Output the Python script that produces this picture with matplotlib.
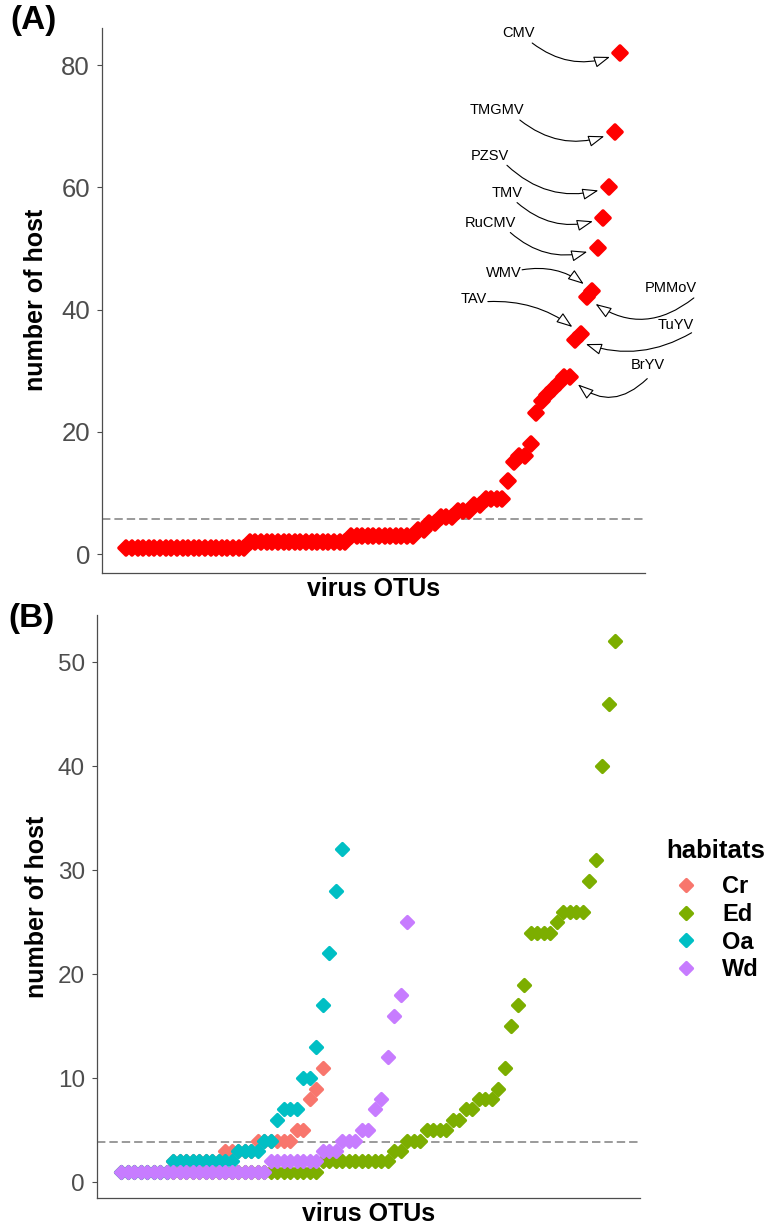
import matplotlib.pyplot as plt
from matplotlib.markers import MarkerStyle

plt.rcParams["font.family"] = ["Liberation Sans", "DejaVu Sans"]

# (A) number of host species per virus OTU, OTUs sorted by host range
hosts_all = [
    1, 1, 1, 1, 1, 1, 1, 1, 1, 1, 1, 1, 1, 1, 1, 1, 1, 1, 1, 1, 1, 1,
    2, 2, 2, 2, 2, 2, 2, 2, 2, 2, 2, 2, 2, 2, 2, 2, 2, 2,
    3, 3, 3, 3, 3, 3, 3, 3, 3, 3, 3, 3,
    4, 4, 5, 5, 6, 6, 6, 7, 7, 7, 8, 8,
    9, 9, 9, 9,
    12, 15, 16, 16, 18, 23, 25, 26, 27, 28, 29, 29,
    35, 36, 42, 43, 50, 55, 60, 69, 82,
]
cutoff_all = 5.7

# labelled OTUs: host count they point at, label position, arrow tail, arc
otu_names = ["CMV", "TMGMV", "PZSV", "TMV", "RuCMV", "WMV", "PMMoV", "TAV", "TuYV", "BrYV"]
otu_hosts = [82, 69, 60, 55, 50, 43, 42, 36, 35, 29]
label_xy = [(70.9, 85.2), (67.0, 72.6), (65.7, 65.1), (68.8, 59.1), (65.9, 54.2),
            (68.2, 45.9), (98.0, 43.5), (62.9, 41.7), (98.9, 37.5), (93.9, 30.9)]
tail_xy = [(73.3, 83.6), (71.1, 71.0), (68.8, 63.6), (70.6, 57.5), (69.4, 52.6),
           (71.5, 46.5), (102.1, 41.9), (65.4, 41.3), (101.7, 36.2), (93.8, 28.7)]
arc_rad = [0.3, 0.3, 0.3, 0.3, 0.3, -0.25, -0.4, -0.2, -0.25, -0.5]

# (B) number of host species per virus OTU within each habitat
habitats = ["Cr", "Ed", "Oa", "Wd"]
habitat_colors = ["#F8766D", "#7CAE00", "#00BFC4", "#C77CFF"]
hosts_cr = [
    1, 1, 1, 1, 1, 1, 1, 1,
    2, 2, 2, 2, 2, 2, 2, 2,
    3, 3, 3, 3, 3,
    4, 4, 4, 4, 4, 4,
    5, 5, 8, 9, 11,
]
hosts_ed = [
    1, 1, 1, 1, 1, 1, 1, 1, 1, 1, 1, 1, 1, 1, 1, 1, 1, 1, 1, 1,
    1, 1, 1, 1, 1, 1, 1, 1, 1, 1, 1,
    2, 2, 2, 2, 2, 2, 2, 2, 2, 2, 2,
    3, 3, 4, 4, 4, 5, 5, 5, 5, 6, 6, 7, 7, 8, 8, 8,
    9, 11, 15, 17, 19,
    24, 24, 24, 24, 25, 26, 26, 26, 26,
    29, 31, 40, 46, 52,
]
hosts_oa = [
    1, 1, 1, 1, 1, 1, 1, 1,
    2, 2, 2, 2, 2, 2, 2, 2, 2, 2,
    3, 3, 3, 3, 4, 4, 6, 7, 7, 7, 10, 10,
    13, 17, 22, 28, 32,
]
hosts_wd = [
    1, 1, 1, 1, 1, 1, 1, 1, 1, 1, 1, 1, 1, 1, 1, 1, 1, 1, 1, 1, 1, 1, 1,
    2, 2, 2, 2, 2, 2, 2, 2,
    3, 3, 3, 4, 4, 4, 5, 5,
    7, 8, 12, 16, 18, 25,
]
hosts_by_habitat = [hosts_cr, hosts_ed, hosts_oa, hosts_wd]
cutoff_habitat = 3.9

AXIS_GREY = "#4D4D4D"
diamond = MarkerStyle("D", joinstyle="round")


def ranks(values):
    return list(range(1, len(values) + 1))


def expanded(n):
    pad = 0.05 * (n - 1)
    return 1 - pad, n + pad


def style_axes(ax, yticks, ylabel_x, ticksize):
    for side in ("top", "right"):
        ax.spines[side].set_visible(False)
    for side in ("left", "bottom"):
        ax.spines[side].set_color(AXIS_GREY)
        ax.spines[side].set_linewidth(0.9)
    ax.set_xticks([])
    ax.set_yticks(yticks)
    ax.tick_params(axis="y", length=3.5, width=0.8, color=AXIS_GREY,
                   labelcolor=AXIS_GREY, labelsize=ticksize, pad=5)
    ax.set_xlabel("virus OTUs", fontsize=18, fontweight="bold", labelpad=3)
    ax.set_ylabel("number of host", fontsize=18, fontweight="bold")
    ax.yaxis.set_label_coords(ylabel_x, 0.5)


fig = plt.figure(figsize=(7.71, 12.30), dpi=100)
ax_a = fig.add_axes([0.1319, 0.5344, 0.7047, 0.4428])
ax_b = fig.add_axes([0.1254, 0.0258, 0.7047, 0.4743])

# --- panel A ---
ax_a.axhline(cutoff_all, color="#7F7F7F", lw=1.1, ls=(0, (5.5, 2.6)), zorder=1)
ax_a.plot(ranks(hosts_all), hosts_all, ls="none", marker=diamond, ms=7.4,
          mfc="#FF0000", mec="#FF0000", mew=2.6, zorder=2)

rank_of = {v: i + 1 for i, v in enumerate(hosts_all)}
for name, v, (tx, ty), (sx, sy), rad in zip(otu_names, otu_hosts, label_xy, tail_xy, arc_rad):
    ax_a.text(tx, ty, name, ha="center", va="center", fontsize=10.5)
    ax_a.annotate(
        "", xy=(rank_of[v], v), xytext=(sx, sy), annotation_clip=False,
        arrowprops=dict(arrowstyle="-|>,head_length=0.9,head_width=0.32",
                        mutation_scale=11, fc="white", ec="black", lw=0.8,
                        shrinkA=0, shrinkB=8,
                        connectionstyle=f"arc3,rad={rad}"),
    )

ax_a.set_xlim(*expanded(len(hosts_all)))
ax_a.set_ylim(1 - 0.05 * 81, 82 + 0.05 * 81)
style_axes(ax_a, [0, 20, 40, 60, 80], -0.098, 18.5)

# --- panel B ---
ax_b.axhline(cutoff_habitat, color="#7F7F7F", lw=1.1, ls=(0, (5.5, 2.6)), zorder=1)
handles = []
for name, color, values in zip(habitats, habitat_colors, hosts_by_habitat):
    (h,) = ax_b.plot(ranks(values), values, ls="none", marker=diamond, ms=6.6,
                     mfc=color, mec=color, mew=2.3, label=name, zorder=2)
    handles.append(h)

n_max = max(len(v) for v in hosts_by_habitat)
ax_b.set_xlim(*expanded(n_max))
ax_b.set_ylim(1 - 0.05 * 51, 52 + 0.05 * 51)
style_axes(ax_b, [0, 10, 20, 30, 40, 50], -0.088, 17.5)

ax_b.legend(handles=handles, loc="upper left",
            bbox_to_anchor=(0.872, 0.2884), bbox_transform=fig.transFigure,
            frameon=False, prop={"weight": "bold", "size": 17},
            handlelength=1.2, handletextpad=0.9,
            labelspacing=0.2, borderpad=0, borderaxespad=0)
fig.text(666 / 771, 1 - 851 / 1230, "habitats", fontsize=18.5,
         fontweight="bold", va="center", ha="left")

fig.text(0.013, 1 - 20 / 1230, "(A)", fontsize=24, fontweight="bold", va="center")
fig.text(0.011, 1 - 618 / 1230, "(B)", fontsize=24, fontweight="bold", va="center")

fig.savefig("out.png", dpi=100)
plt.close(fig)
